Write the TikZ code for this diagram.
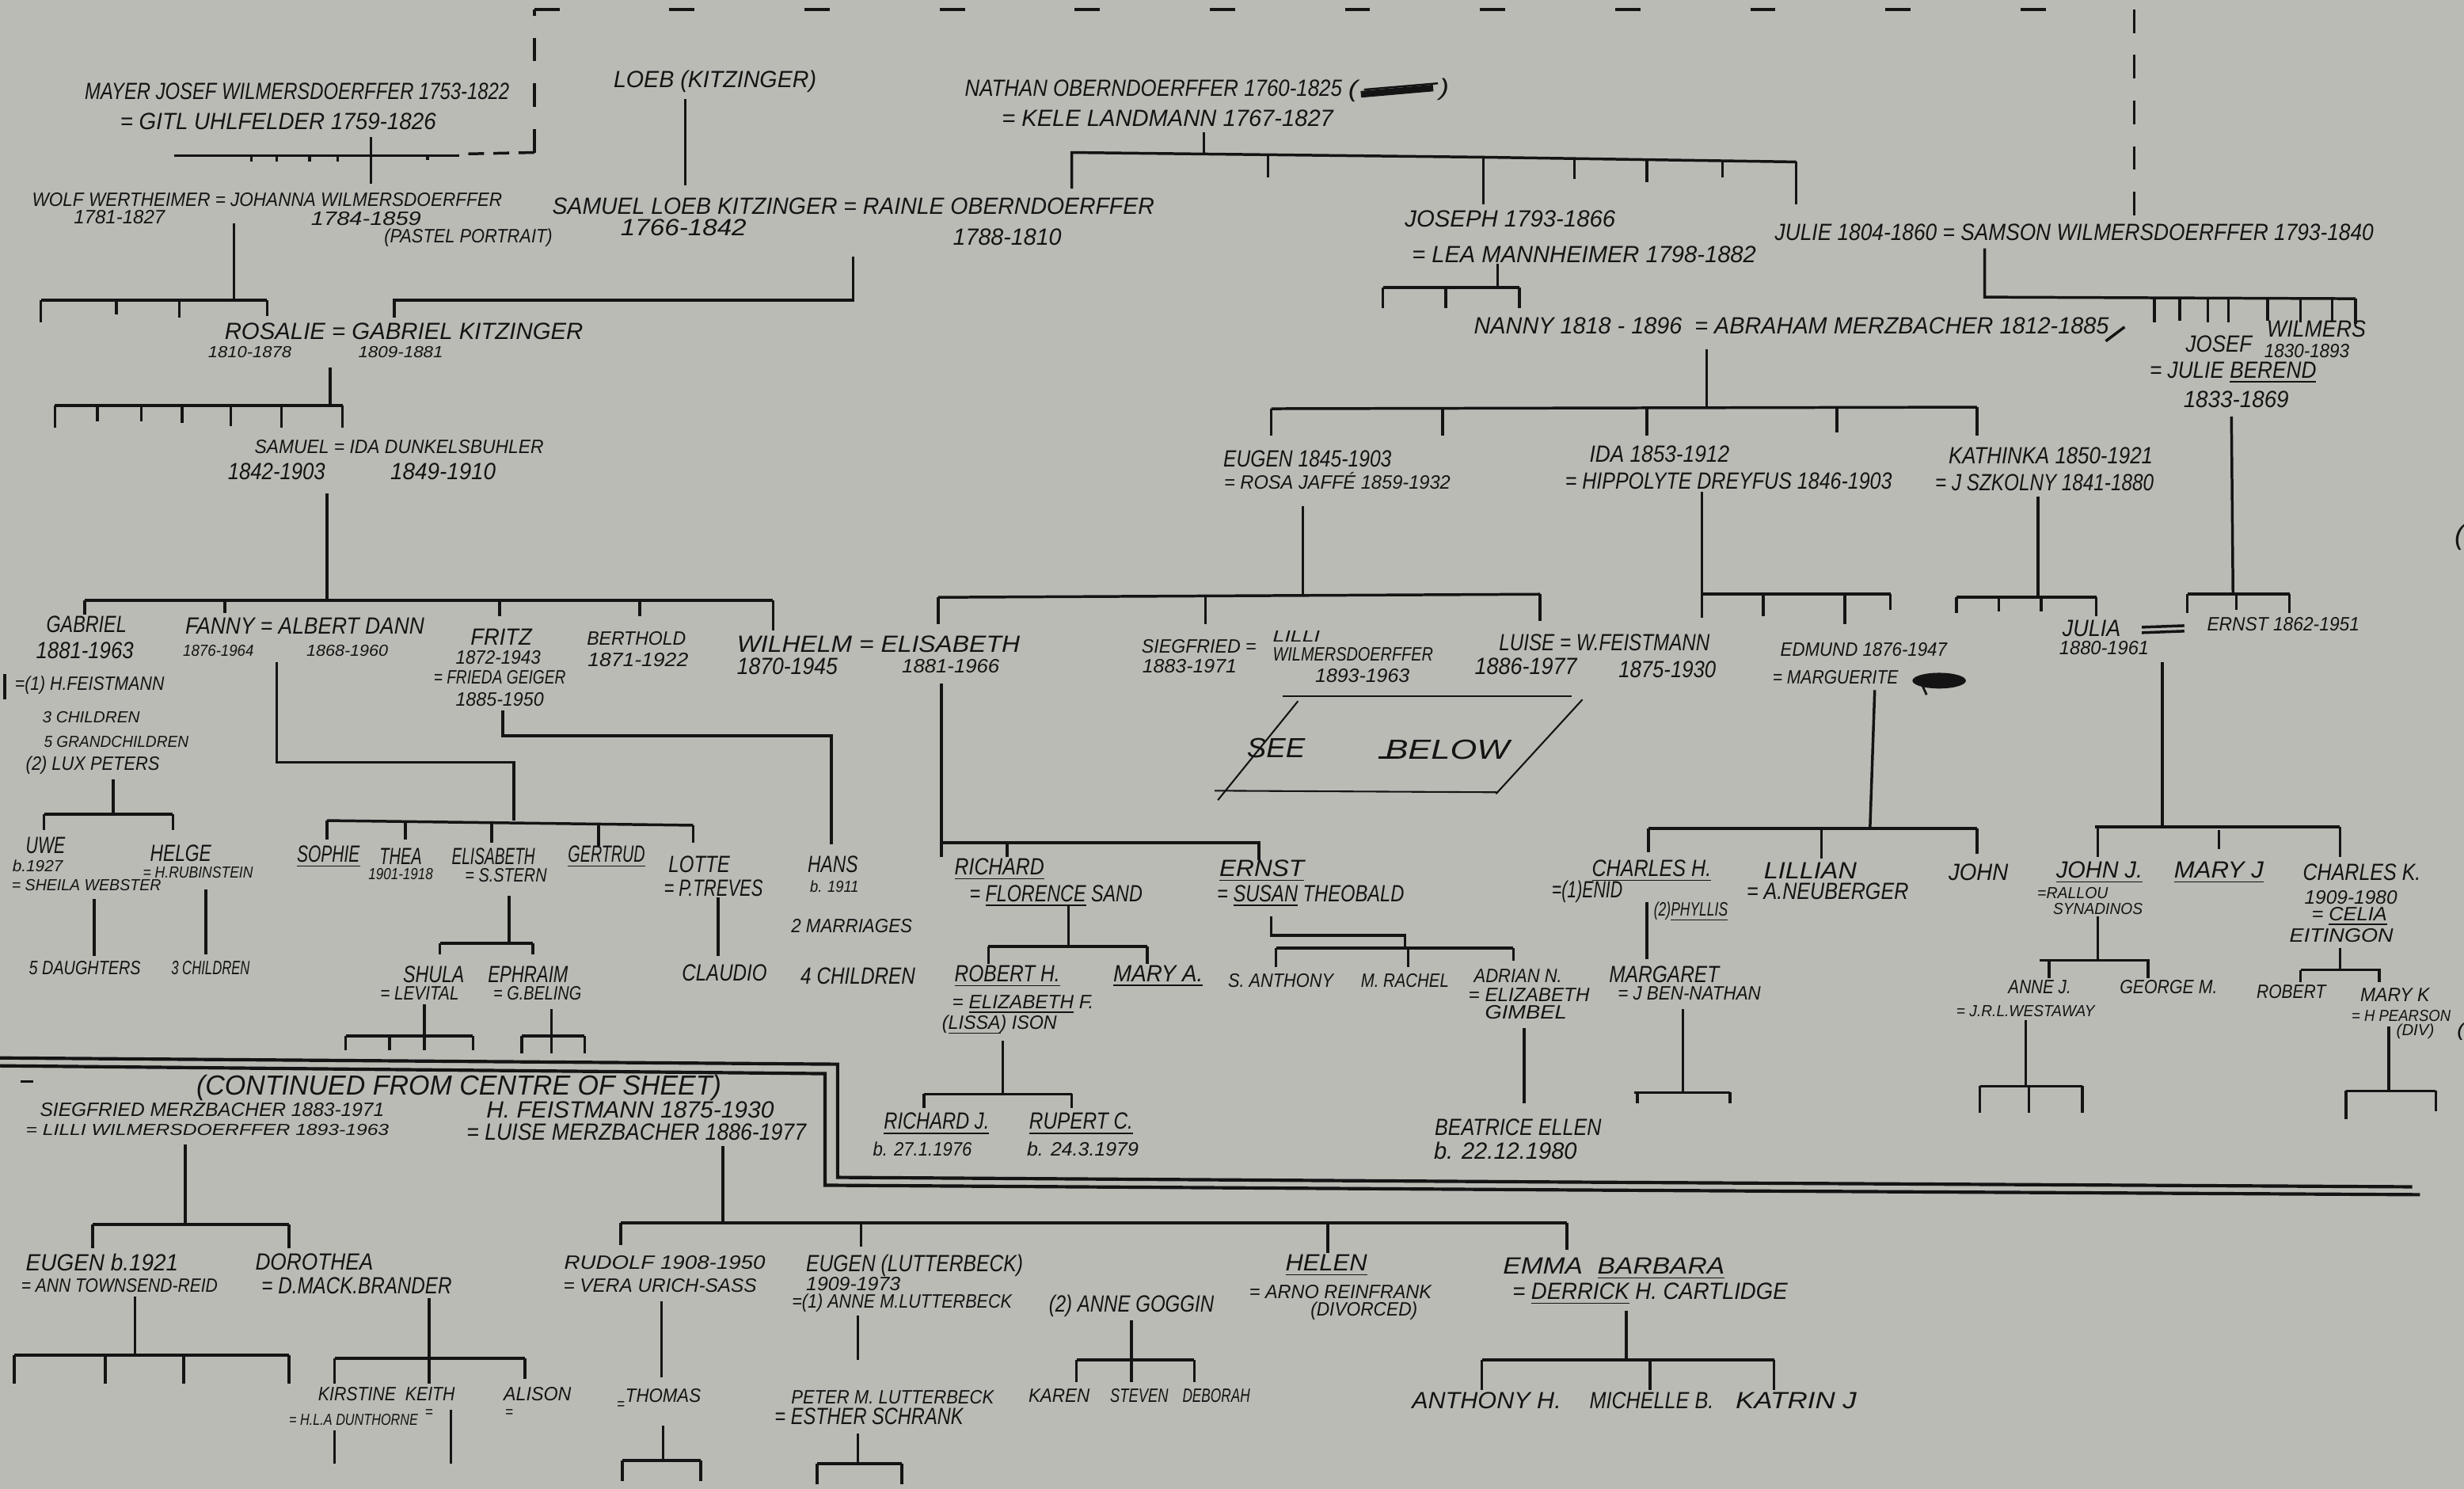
\documentclass[tikz,border=0pt]{standalone}
\usepackage{fontspec}
\setmainfont{Liberation Sans}
\usepackage{graphicx}
\newlength\pxu \setlength\pxu{0.02cm}
\newcommand{\hs}[2]{\resizebox{#1\pxu}{\height}{#2}}
\definecolor{paper}{RGB}{186,187,181}
\definecolor{ink}{RGB}{20,20,20}
\tikzset{
 ta/.style={font=\fontsize{8.5}{9}\selectfont\itshape,text=ink,inner sep=0pt},
 tb/.style={font=\fontsize{7}{8}\selectfont\itshape,text=ink,inner sep=0pt},
 tc/.style={font=\fontsize{5.8}{6.5}\selectfont\itshape,text=ink,inner sep=0pt},
 tbig/.style={font=\fontsize{10}{11}\selectfont\itshape,text=ink,inner sep=0pt},
 ln/.style={draw=ink,line width=1pt},
 dsh/.style={draw=ink,line width=1pt,dash pattern=on 0.3cm off 0.28cm},
 dtop/.style={draw=ink,line width=1pt,dash pattern=on 0.32cm off 1.4cm},
}
\newcommand{\Tx}[6]{\node[#5] (#1) at (#2,#3) {\hs{#4}{#6}};}
\newcommand{\tk}[3]{\draw[ln] (#1,#2)--(#1,#3);}
\begin{document}
\begin{tikzpicture}[x=0.02cm,y=-0.02cm]
\fill[paper] (0,0) rectangle (1568,947);
\useasboundingbox (0,0) rectangle (1568,947);

% ---------- dashed frame ----------
\draw[dsh] (340,97)--(340,6);
\draw[dtop] (340,6)--(1358,6);
\draw[dsh] (1358,6)--(1358,138);
\draw[ink,line width=1pt,dash pattern=on 0.2cm off 0.12cm] (340,97)--(292,98);

% ---------- top generation texts ----------
\Tx{mayer}{189}{58}{270}{ta}{MAYER JOSEF WILMERSDOERFFER 1753-1822}
\Tx{gitl}{177}{77}{201}{ta}{= GITL UHLFELDER 1759-1826}
\Tx{wolf}{170}{127}{299}{tb}{WOLF WERTHEIMER = JOHANNA WILMERSDOERFFER}
\Tx{wolfd}{76}{138}{58}{tb}{1781-1827}
\Tx{johd}{233}{139}{70}{tb}{1784-1859}
\Tx{past}{298}{151}{107}{tb}{(PASTEL PORTRAIT)}
\Tx{loeb}{455}{52}{129}{ta}{LOEB (KITZINGER)}
\Tx{samloeb}{543}{131}{383}{ta}{SAMUEL LOEB KITZINGER = RAINLE OBERNDOERFFER}
\Tx{samloebd}{435}{145}{80}{ta}{1766-1842}
\Tx{rainled}{641}{151}{69}{ta}{1788-1810}
\Tx{nathan}{734}{56}{240}{ta}{NATHAN OBERNDOERFFER 1760-1825}
\Tx{nparl}{861}{58}{6}{ta}{(}
\Tx{nparr}{919}{57}{6}{ta}{)}
\draw[ink,line width=2.4pt] (866,60)--(912,56);
\draw[ink,line width=0.7pt] (868,57)--(915,53);
\Tx{kele}{743}{75}{211}{ta}{= KELE LANDMANN 1767-1827}
\Tx{joseph}{961}{139}{134}{ta}{JOSEPH 1793-1866}
\Tx{lea}{1008}{162}{219}{ta}{= LEA MANNHEIMER 1798-1882}
\Tx{nanny}{1140}{207}{404}{ta}{NANNY 1818 - 1896 \ = ABRAHAM MERZBACHER 1812-1885}
\draw[ln] (1340,217)--(1352,208);
\Tx{julie}{1320}{148}{381}{ta}{JULIE 1804-1860 = SAMSON WILMERSDOERFFER 1793-1840}
\Tx{josef}{1412}{219}{42}{ta}{JOSEF}
\Tx{wilmers}{1474}{209}{63}{ta}{WILMERS}
\Tx{josefd}{1468}{223}{54}{tb}{1830-1893}
\Tx{berend}{1421}{237}{106}{ta}{= JULIE \underline{BEREND}}
\Tx{berendd}{1423}{254}{67}{ta}{1833-1869}
\Tx{rosalie}{257}{211}{228}{ta}{ROSALIE = GABRIEL KITZINGER}
\Tx{rosd}{159}{224}{53}{tc}{1810-1878}
\Tx{gabkd}{255}{224}{54}{tc}{1809-1881}
\Tx{samuel}{254}{284}{184}{tb}{SAMUEL = IDA DUNKELSBUHLER}
\Tx{samd}{176}{300}{62}{ta}{1842-1903}
\Tx{idad}{282}{300}{67}{ta}{1849-1910}
\Tx{eugen}{832}{292}{107}{ta}{EUGEN 1845-1903}
\Tx{rosa}{851}{306}{144}{tb}{= ROSA JAFFÉ 1859-1932}
\Tx{ida}{1056}{289}{89}{ta}{IDA 1853-1912}
\Tx{hipp}{1100}{306}{208}{ta}{= HIPPOLYTE DREYFUS 1846-1903}
\Tx{kath}{1305}{290}{130}{ta}{KATHINKA 1850-1921}
\Tx{szk}{1301}{307}{139}{ta}{= J SZKOLNY 1841-1880}

% ---------- top lines ----------
\draw[ln] (111,99)--(292,99);
\tk{160}{99}{103}\tk{176}{99}{103}\tk{197}{99}{103}\tk{215}{99}{103}\tk{272}{99}{102}
\draw[ln] (236,87)--(236,117);
\draw[ln] (149,142)--(149,191);
\draw[ln] (26,191)--(170,191);
\tk{26}{191}{205}\tk{74}{191}{200}\tk{114}{191}{202}\tk{170}{191}{201}
\draw[ln] (251,202)--(251,191)--(543,191)--(543,163);
\draw[ln] (436,63)--(436,118);
\draw[ln] (766,84)--(766,98);
\draw[ln] (682,120)--(682,97)--(944,100)--(1143,103);
\tk{807}{99}{113}\tk{944}{100}{130}\tk{1002}{101}{114}\tk{1048}{102}{116}\tk{1096}{102}{113}\tk{1143}{103}{130}
\draw[ln] (953,168)--(953,183);
\draw[ln] (880,183)--(967,183);
\tk{880}{183}{196}\tk{920}{183}{196}\tk{967}{183}{196}
\draw[ln] (1263,158)--(1263,189)--(1499,190);
\tk{1371}{190}{205}\tk{1387}{190}{204}\tk{1405}{190}{205}\tk{1418}{190}{205}
\tk{1443}{190}{204}\tk{1464}{190}{205}\tk{1484}{190}{204}\tk{1499}{190}{206}
\draw[ln] (1086,222)--(1086,260);
\draw[ln] (809,260)--(1258,259);
\tk{809}{260}{277}\tk{918}{260}{277}\tk{1048}{260}{277}\tk{1169}{259}{275}\tk{1258}{259}{277}
\draw[ln] (1420,265)--(1421,378);
\draw[ln] (1392,378)--(1457,378);
\tk{1392}{378}{390}\tk{1423}{378}{388}\tk{1457}{378}{390}
\draw[ln] (210,234)--(210,258);
\draw[ln] (35,258)--(218,258);
\tk{35}{258}{272}\tk{62}{258}{268}\tk{90}{258}{268}\tk{116}{258}{269}\tk{147}{258}{271}\tk{179}{258}{272}\tk{218}{258}{272}
\draw[ln] (208,314)--(208,382);
\draw[ln] (54,382)--(492,382);
\tk{54}{382}{391}\tk{143}{382}{390}\tk{318}{382}{392}\tk{407}{382}{392}\tk{492}{382}{401}
\draw[ln] (829,322)--(829,378);
\draw[ln] (597,380)--(980,378);
\tk{597}{380}{397}\tk{767}{379}{397}\tk{980}{378}{395}
\draw[ln] (1083,313)--(1083,393);
\draw[ln] (1083,378)--(1203,378);
\tk{1122}{378}{392}\tk{1174}{378}{397}\tk{1203}{378}{388}
\draw[ln] (1297,316)--(1297,380);
\draw[ln] (1245,380)--(1334,380);
\tk{1245}{380}{390}\tk{1272}{380}{389}\tk{1299}{380}{389}\tk{1334}{380}{392}

% ---------- middle generation texts ----------
\Tx{gabriel}{55}{397}{51}{ta}{GABRIEL}
\Tx{gabd}{54}{414}{62}{ta}{1881-1963}
\Tx{gabm1}{57}{436}{95}{tb}{=(1) H.FEISTMANN}
\Tx{gabc}{58}{456}{62}{tc}{3 CHILDREN}
\Tx{gabg}{74}{472}{92}{tc}{5 GRANDCHILDREN}
\Tx{gabm2}{59}{487}{85}{tb}{(2) LUX PETERS}
\Tx{uwe}{29}{538}{25}{ta}{UWE}
\Tx{uwed}{24}{551}{32}{tc}{b.1927}
\Tx{sheila}{55}{563}{95}{tc}{= SHEILA WEBSTER}
\Tx{helge}{115}{543}{39}{ta}{HELGE}
\Tx{rub}{126}{555}{70}{tc}{= H.RUBINSTEIN}
\Tx{daut}{54}{616}{71}{tb}{5 DAUGHTERS}
\Tx{helc}{134}{616}{50}{tb}{3 CHILDREN}
\Tx{fanny}{194}{398}{152}{ta}{FANNY = ALBERT DANN}
\Tx{fand}{139}{414}{45}{tc}{1876-1964}
\Tx{albd}{221}{414}{52}{tc}{1868-1960}
\Tx{fritz}{319}{405}{39}{ta}{FRITZ}
\Tx{fritzd}{317}{418}{54}{tb}{1872-1943}
\Tx{frieda}{318}{431}{84}{tb}{= FRIEDA GEIGER}
\Tx{friedad}{318}{445}{56}{tb}{1885-1950}
\Tx{berth}{405}{406}{63}{tb}{BERTHOLD}
\Tx{berthd}{406}{420}{64}{tb}{1871-1922}
\Tx{wilh}{559}{410}{180}{ta}{WILHELM = ELISABETH}
\Tx{wilhd}{501}{424}{64}{ta}{1870-1945}
\Tx{elisd}{605}{424}{62}{tb}{1881-1966}
\Tx{sieg}{763}{411}{73}{tb}{SIEGFRIED =}
\Tx{lilli}{825}{405}{30}{tc}{LILLI}
\Tx{lilliw}{861}{416}{102}{tb}{WILMERSDOERFFER}
\Tx{siegd}{757}{424}{60}{tb}{1883-1971}
\Tx{lillid}{867}{430}{60}{tb}{1893-1963}
\Tx{luise}{1021}{409}{134}{ta}{LUISE = W.FEISTMANN}
\Tx{luised}{971}{424}{65}{ta}{1886-1977}
\Tx{wfeisd}{1061}{426}{62}{ta}{1875-1930}
\Tx{edmund}{1186}{413}{106}{tb}{EDMUND 1876-1947}
\Tx{marg}{1168}{431}{80}{tb}{= MARGUERITE}
\fill[ink] (1234,433) ellipse [x radius=17, y radius=5];
\draw[ink,line width=0.8pt] (1221,431)--(1226,442);
\Tx{julia}{1331}{400}{37}{ta}{JULIA}
\Tx{juliad}{1339}{412}{57}{tb}{1880-1961}
\draw[ln] (1363,399)--(1390,398);
\draw[ln] (1363,402.5)--(1390,401.5);
\Tx{ernstw}{1453}{397}{97}{tb}{ERNST 1862-1951}
\Tx{parr1}{1565}{342}{6}{tbig}{(}
\Tx{parr2}{1566}{656}{5}{tb}{(}

% SEE BELOW box
\draw[ink,line width=0.6pt] (816,443)--(1000,443);
\draw[ink,line width=0.6pt] (1007,445)--(952,505);
\draw[ink,line width=0.6pt] (953,504)--(773,503);
\draw[ink,line width=0.6pt] (826,446)--(775,509);
\Tx{see}{812}{476}{37}{tbig}{SEE}
\Tx{below}{921}{477}{79}{tbig}{BELOW}
\draw[ink,line width=0.8pt] (877,482)--(890,482);

% middle lines
\draw[ln] (72,496)--(72,518);
\draw[ln] (28,518)--(110,518);
\tk{28}{518}{528}\tk{110}{518}{528}
\draw[ln] (60,572)--(60,608);
\draw[ln] (131,566)--(131,607);
\draw[ln] (176,421)--(176,485)--(327,485)--(327,522);
\draw[ln] (208,522)--(441,525);
\tk{208}{522}{534}\tk{258}{522}{534}\tk{313}{523}{536}\tk{381}{524}{538}\tk{441}{525}{536}
\draw[ln] (457,571)--(457,608);
\draw[ln] (320,452)--(320,468)--(529,468)--(529,537);
\draw[ln] (324,570)--(324,600);
\draw[ln] (280,600)--(339,600);
\tk{280}{600}{607}\tk{339}{600}{607}
\draw[ln] (3,429)--(3,445);

% ---------- fourth generation ----------
\Tx{sophie}{209}{545}{40}{ta}{\underline{SOPHIE}}
\Tx{thea}{255}{545}{27}{ta}{THEA}
\Tx{thead}{255}{556}{41}{tc}{1901-1918}
\Tx{elis2}{314}{545}{53}{ta}{ELISABETH}
\Tx{sstern}{322}{557}{52}{tb}{= S.STERN}
\Tx{gert}{386}{545}{49}{ta}{\underline{GERTRUD}}
\Tx{lotte}{445}{550}{39}{ta}{LOTTE}
\Tx{treves}{454}{565}{63}{ta}{= P.TREVES}
\Tx{claudio}{461}{619}{54}{ta}{CLAUDIO}
\Tx{hans}{530}{550}{32}{ta}{HANS}
\Tx{hansd}{531}{564}{31}{tc}{b. 1911}
\Tx{hansm}{542}{589}{77}{tb}{2 MARRIAGES}
\Tx{hansc}{546}{621}{73}{ta}{4 CHILDREN}
\Tx{shula}{276}{620}{39}{ta}{SHULA}
\Tx{levital}{267}{632}{50}{tb}{= LEVITAL}
\Tx{ephraim}{336}{620}{51}{ta}{EPHRAIM}
\Tx{beling}{342}{632}{56}{tb}{= G.BELING}
\draw[ln] (270,639)--(270,659);
\draw[ln] (220,659)--(301,659);
\tk{220}{659}{668}\tk{248}{659}{668}\tk{270}{659}{668}\tk{301}{659}{668}
\draw[ln] (351,642)--(351,659);
\draw[ln] (332,659)--(372,659);
\tk{332}{659}{670}\tk{351}{659}{670}\tk{372}{659}{670}

\Tx{richard}{636}{553}{57}{ta}{\underline{RICHARD}}
\Tx{flor}{672}{570}{110}{ta}{= \underline{FLORENCE} SAND}
\Tx{robert}{641}{621}{67}{ta}{\underline{ROBERT H.}}
\Tx{marya}{737}{621}{57}{ta}{\underline{MARY A.}}
\Tx{elizf}{651}{639}{90}{tb}{= \underline{ELIZABETH} F.}
\Tx{lissa}{636}{652}{73}{tb}{(\underline{LISSA}) ISON}
\Tx{richj}{596}{715}{67}{ta}{\underline{RICHARD J.}}
\Tx{richjd}{587}{731}{63}{tb}{b. 27.1.1976}
\Tx{rupert}{688}{715}{66}{ta}{\underline{RUPERT C.}}
\Tx{rupertd}{689}{731}{71}{tb}{b. 24.3.1979}
\Tx{ernst2}{803}{554}{54}{ta}{\underline{ERNST}}
\Tx{susan}{834}{570}{119}{ta}{= \underline{SUSAN} THEOBALD}
\Tx{santh}{815}{624}{67}{tb}{S. ANTHONY}
\Tx{mrach}{894}{624}{56}{tb}{M. RACHEL}
\Tx{adrian}{966}{621}{56}{tb}{ADRIAN N.}
\Tx{elizg}{973}{633}{77}{tb}{= ELIZABETH}
\Tx{gimbel}{971}{644}{52}{tb}{GIMBEL}
\Tx{beatrice}{966}{717}{106}{ta}{BEATRICE ELLEN}
\Tx{beatd}{958}{732}{91}{ta}{b. 22.12.1980}
\Tx{charlesh}{1051}{554}{76}{ta}{\underline{CHARLES H.}}
\Tx{enid}{1010}{567}{45}{ta}{=(1)ENID}
\Tx{phyl}{1076}{580}{47}{tb}{(2)\underline{PHYLLIS}}
\Tx{margaret}{1059}{620}{70}{ta}{MARGARET}
\Tx{bennat}{1075}{632}{91}{tb}{= J BEN-NATHAN}
\Tx{lillian}{1152}{554}{59}{ta}{LILLIAN}
\Tx{neub}{1163}{567}{103}{ta}{= A.NEUBERGER}
\Tx{john}{1259}{555}{38}{ta}{JOHN}
\Tx{johnj}{1336}{555}{55}{ta}{\underline{JOHN J.}}
\Tx{rallou}{1319}{568}{45}{tc}{=RALLOU}
\Tx{synad}{1335}{578}{57}{tc}{SYNADINOS}
\Tx{maryj}{1412}{555}{57}{ta}{\underline{MARY J}}
\Tx{charlesk}{1503}{555}{75}{ta}{CHARLES K.}
\Tx{charlesd}{1496}{571}{59}{tb}{1909-1980}
\Tx{celia}{1495}{583}{48}{tb}{= \underline{CELIA}}
\Tx{eiting}{1490}{595}{66}{tb}{EITINGON}
\Tx{annej}{1298}{628}{40}{tb}{ANNE J.}
\Tx{westa}{1289}{643}{88}{tc}{= J.R.L.WESTAWAY}
\Tx{george}{1380}{628}{62}{tb}{GEORGE M.}
\Tx{robk}{1458}{631}{44}{tb}{ROBERT}
\Tx{maryk}{1524}{633}{44}{tb}{MARY K}
\Tx{pearson}{1528}{646}{63}{tc}{= H PEARSON}
\Tx{div}{1537}{656}{24}{tc}{(DIV)}

% lines, fourth generation
\draw[ln] (599,435)--(599,545);
\draw[ln] (599,536)--(801,536)--(801,547);
\tk{641}{536}{545}
\draw[ln] (680,576)--(680,602);
\draw[ln] (629,602)--(730,602);
\tk{629}{602}{613}\tk{730}{602}{613}
\draw[ln] (638,662)--(638,696);
\draw[ln] (588,696)--(682,696);
\tk{588}{696}{705}\tk{682}{696}{705}
\draw[ln] (809,583)--(809,595)--(894,595)--(894,603);
\draw[ln] (812,603)--(963,603);
\tk{812}{603}{615}\tk{896}{603}{615}\tk{963}{603}{611}
\draw[ln] (970,654)--(970,702);
\draw[ln] (1376,421)--(1376,526);
\draw[ln] (1333,526)--(1489,526);
\tk{1335}{526}{545}\tk{1412}{528}{540}\tk{1489}{526}{545}
\draw[ln] (1193,439)--(1190,527);
\draw[ln] (1049,527)--(1258,527);
\tk{1049}{527}{542}\tk{1159}{527}{546}\tk{1258}{527}{543}
\draw[ln] (1048,574)--(1048,610);
\draw[ln] (1071,642)--(1071,695);
\draw[ln] (1040,695)--(1101,695);
\tk{1042}{695}{702}\tk{1101}{695}{702}
\draw[ln] (1335,583)--(1335,611);
\draw[ln] (1298,611)--(1368,611);
\tk{1304}{611}{622}\tk{1367}{611}{622}
\draw[ln] (1489,603)--(1489,617);
\draw[ln] (1464,617)--(1515,617);
\tk{1464}{617}{625}\tk{1514}{617}{625}
\draw[ln] (1289,649)--(1289,691);
\draw[ln] (1260,691)--(1325,691);
\tk{1260}{691}{708}\tk{1291}{691}{708}\tk{1325}{691}{708}
\draw[ln] (1520,653)--(1520,694);
\draw[ln] (1493,694)--(1550,694);
\tk{1493}{694}{712}\tk{1550}{694}{707}

% ---------- separator double line ----------
\draw[ink,line width=1.2pt] (0,673)--(533,677)--(533,749)--(1000,752)--(1535,755);
\draw[ink,line width=1.2pt] (0,678)--(525,683)--(525,754)--(1000,757)--(1540,760);
\draw[ln] (13,688)--(21,688);

% ---------- bottom section ----------
\Tx{cont}{292}{692}{334}{tbig}{(CONTINUED FROM CENTRE OF SHEET)}
\Tx{siegm}{135}{706}{219}{tb}{SIEGFRIED MERZBACHER 1883-1971}
\Tx{lilliwb}{132}{719}{231}{tc}{= LILLI WILMERSDOERFFER 1893-1963}
\Tx{hfeist}{401}{706}{183}{ta}{H. FEISTMANN 1875-1930}
\Tx{luisem}{405}{720}{216}{ta}{= LUISE MERZBACHER 1886-1977}
\Tx{eugenb}{65}{803}{97}{ta}{EUGEN b.1921}
\Tx{ann}{76}{818}{125}{tb}{= ANN TOWNSEND-REID}
\Tx{doro}{200}{803}{75}{ta}{DOROTHEA}
\Tx{mack}{227}{818}{121}{ta}{= D.MACK.BRANDER}
\Tx{kirst}{246}{887}{87}{tb}{KIRSTINE \ KEITH}
\Tx{keq}{273}{899}{5}{tc}{=}
\Tx{dunth}{225}{903}{82}{tc}{= H.L.A DUNTHORNE}
\Tx{alison}{342}{887}{43}{tb}{ALISON}
\Tx{aleq}{324}{899}{5}{tc}{=}
\Tx{rudolf}{423}{803}{128}{tb}{RUDOLF 1908-1950}
\Tx{vera}{420}{818}{123}{tb}{= VERA URICH-SASS}
\Tx{eugenl}{582}{805}{138}{ta}{EUGEN (LUTTERBECK)}
\Tx{eugenld}{543}{817}{60}{tb}{1909-1973}
\Tx{annem}{574}{829}{140}{tb}{=(1) ANNE M.LUTTERBECK}
\Tx{goggin}{720}{831}{105}{ta}{(2) ANNE GOGGIN}
\Tx{thomas}{422}{888}{48}{tb}{THOMAS}
\Tx{theq}{395}{894}{5}{tc}{=}
\Tx{peter}{568}{889}{129}{tb}{PETER M. LUTTERBECK}
\Tx{esther}{553}{901}{120}{ta}{= ESTHER SCHRANK}
\Tx{karen}{674}{888}{39}{tb}{KAREN}
\Tx{steven}{725}{888}{37}{tb}{STEVEN}
\Tx{deborah}{774}{888}{43}{tb}{DEBORAH}
\Tx{helen}{844}{805}{52}{ta}{\underline{HELEN}}
\Tx{arno}{853}{822}{116}{tb}{= ARNO REINFRANK}
\Tx{divorced}{868}{834}{68}{tb}{(DIVORCED)}
\Tx{emma}{1027}{807}{141}{ta}{EMMA \ \underline{BARBARA}}
\Tx{derrick}{1050}{823}{175}{ta}{= \underline{DERRICK} H. CARTLIDGE}
\Tx{anthony}{946}{891}{95}{ta}{ANTHONY H.}
\Tx{michelle}{1051}{891}{79}{ta}{MICHELLE B.}
\Tx{katrin}{1143}{891}{77}{ta}{KATRIN J}

% bottom lines
\draw[ln] (118,728)--(118,779);
\draw[ln] (59,779)--(184,779);
\tk{59}{779}{794}\tk{184}{779}{794}
\draw[ln] (86,825)--(86,862);
\draw[ln] (9,862)--(184,862);
\tk{9}{862}{880}\tk{67}{862}{880}\tk{117}{862}{880}\tk{184}{862}{880}
\draw[ln] (273,826)--(273,880);
\draw[ln] (213,864)--(334,864);
\tk{213}{864}{880}\tk{334}{864}{877}
\draw[ln] (213,910)--(213,931);
\draw[ln] (287,897)--(287,931);
\draw[ln] (460,729)--(460,778);
\draw[ln] (395,778)--(997,778);
\tk{395}{778}{792}\tk{548}{778}{793}\tk{845}{778}{797}\tk{997}{778}{795}
\draw[ln] (421,828)--(421,876);
\draw[ln] (422,907)--(422,929);
\draw[ln] (396,929)--(446,929);
\tk{396}{929}{942}\tk{446}{929}{942}
\draw[ln] (546,837)--(546,865);
\draw[ln] (546,912)--(546,931);
\draw[ln] (520,931)--(574,931);
\tk{520}{931}{944}\tk{574}{931}{944}
\draw[ln] (720,840)--(720,879);
\draw[ln] (685,865)--(760,865);
\tk{685}{865}{879}\tk{760}{865}{879}
\draw[ln] (1035,834)--(1035,865);
\draw[ln] (943,865)--(1129,865);
\tk{943}{865}{884}\tk{1050}{865}{884}\tk{1129}{865}{884}
\end{tikzpicture}
\end{document}
